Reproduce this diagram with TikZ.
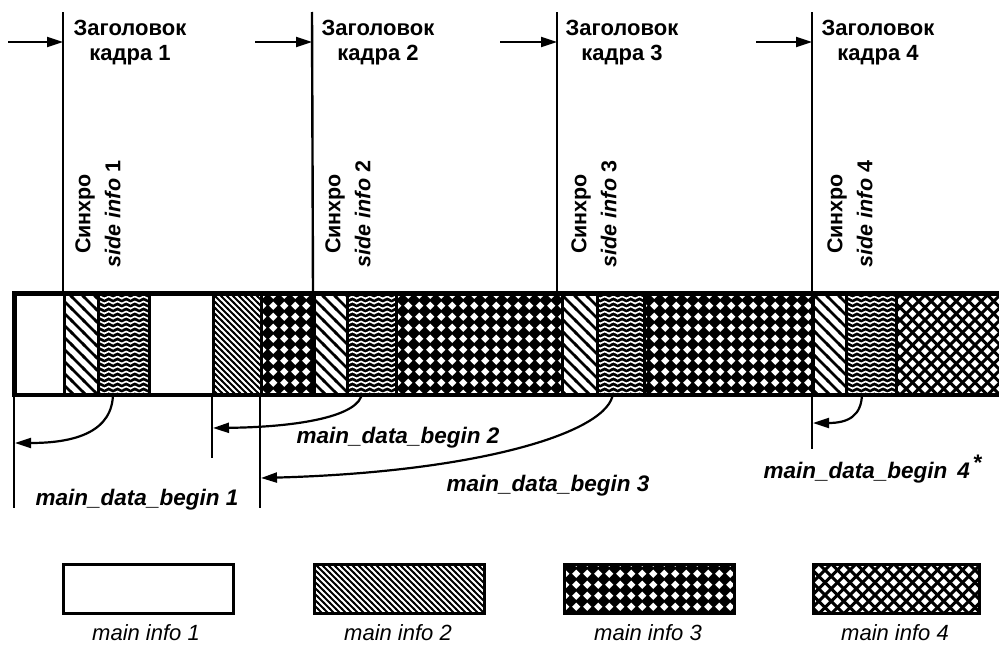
\documentclass[tikz,border=0pt]{standalone}
\usepackage{fontspec}
\setmainfont{Liberation Sans}
\usetikzlibrary{patterns,arrows.meta}

\pgfdeclarepatternformonly{sparsediag}{\pgfqpoint{-2pt}{-2pt}}{\pgfqpoint{14pt}{14pt}}{\pgfqpoint{12pt}{12pt}}{%
  \pgfsetlinewidth{2.6pt}%
  \pgfpathmoveto{\pgfqpoint{-2pt}{14pt}}%
  \pgfpathlineto{\pgfqpoint{14pt}{-2pt}}%
  \pgfusepath{stroke}}
\pgfdeclarepatternformonly{densediag}{\pgfqpoint{-1pt}{-1pt}}{\pgfqpoint{7pt}{7pt}}{\pgfqpoint{6pt}{6pt}}{%
  \pgfsetlinewidth{2.1pt}%
  \pgfpathmoveto{\pgfqpoint{-1pt}{7pt}}%
  \pgfpathlineto{\pgfqpoint{7pt}{-1pt}}%
  \pgfusepath{stroke}}
\pgfdeclarepatternformonly{diamondsw}{\pgfqpoint{0pt}{0pt}}{\pgfqpoint{11.2pt}{11.2pt}}{\pgfqpoint{11.2pt}{11.2pt}}{%
  \pgfpathmoveto{\pgfqpoint{5.6pt}{1.2pt}}%
  \pgfpathlineto{\pgfqpoint{10.0pt}{5.6pt}}%
  \pgfpathlineto{\pgfqpoint{5.6pt}{10.0pt}}%
  \pgfpathlineto{\pgfqpoint{1.2pt}{5.6pt}}%
  \pgfpathclose
  \pgfusepath{fill}}
\pgfdeclarepatternformonly{crossh}{\pgfqpoint{-1pt}{-1pt}}{\pgfqpoint{13.5pt}{13.5pt}}{\pgfqpoint{12.5pt}{12.5pt}}{%
  \pgfsetlinewidth{3pt}%
  \pgfpathmoveto{\pgfqpoint{-1pt}{-1pt}}%
  \pgfpathlineto{\pgfqpoint{13.5pt}{13.5pt}}%
  \pgfpathmoveto{\pgfqpoint{-1pt}{13.5pt}}%
  \pgfpathlineto{\pgfqpoint{13.5pt}{-1pt}}%
  \pgfusepath{stroke}}
\pgfdeclarepatternformonly{wavy}{\pgfqpoint{-0.5pt}{0pt}}{\pgfqpoint{9.2pt}{5pt}}{\pgfqpoint{8.7pt}{5pt}}{%
  \pgfsetlinewidth{1.6pt}%
  \pgfpathmoveto{\pgfqpoint{-0.5pt}{1.5pt}}%
  \pgfpathlineto{\pgfqpoint{0pt}{1.5pt}}%
  \pgfpathcurveto{\pgfqpoint{2.175pt}{1.5pt}}{\pgfqpoint{2.175pt}{3.5pt}}{\pgfqpoint{4.35pt}{3.5pt}}%
  \pgfpathcurveto{\pgfqpoint{6.525pt}{3.5pt}}{\pgfqpoint{6.525pt}{1.5pt}}{\pgfqpoint{8.7pt}{1.5pt}}%
  \pgfpathlineto{\pgfqpoint{9.2pt}{1.5pt}}%
  \pgfusepath{stroke}}

\begin{document}
\begin{tikzpicture}[x=1pt,y=-1pt,
  frameline/.style={line width=2.4pt},
  arr/.style={line width=2.2pt,-{Triangle[length=16pt,width=10pt]}},
  seg/.style={draw,line width=2.5pt,inner sep=0pt,minimum height=100pt,anchor=north west},
  legbox/.style={draw,line width=3pt,inner sep=0pt,minimum height=49pt,anchor=north west},
  hdr/.style={font=\fontsize{22}{25}\selectfont\bfseries,align=center,inner sep=0pt,anchor=north},
  rot/.style={rotate=90,font=\fontsize{21.5}{30}\selectfont\bfseries,align=center,inner sep=0pt},
  lbl/.style={font=\fontsize{22.5}{27}\selectfont\bfseries\itshape,inner sep=0pt},
  leg/.style={font=\fontsize{22}{26}\selectfont\itshape,inner sep=0pt,anchor=base},
  sidepat/.style={pattern=sparsediag},
  wavepat/.style={preaction={fill=black},pattern=wavy,pattern color=white},
  mtwo/.style={pattern=densediag},
  mthree/.style={preaction={fill=black},pattern=diamondsw,pattern color=white},
  mfour/.style={pattern=crossh}]
\clip (0,0) rectangle (999,645);

% bar segments
\node[seg,minimum width=49pt] (a) at (14,293) {};
\node[seg,sidepat,minimum width=34pt] (b) at (63,293) {};
\node[seg,wavepat,minimum width=51pt] (c) at (97,293) {};
\node[seg,minimum width=64pt] (d) at (148,293) {};
\node[seg,mtwo,minimum width=48pt] (e) at (212,293) {};
\node[seg,mthree,minimum width=53pt] (f) at (260,293) {};
\node[seg,sidepat,minimum width=33pt] (g) at (313,293) {};
\node[seg,wavepat,minimum width=49pt] (h) at (346,293) {};
\node[seg,mthree,minimum width=166pt] (i) at (395,293) {};
\node[seg,sidepat,minimum width=35pt] (j) at (561,293) {};
\node[seg,wavepat,minimum width=47pt] (k) at (596,293) {};
\node[seg,mthree,minimum width=169pt] (l) at (643,293) {};
\node[seg,sidepat,minimum width=33pt] (m) at (812,293) {};
\node[seg,wavepat,minimum width=50pt] (n) at (845,293) {};
\node[seg,mfour,minimum width=120pt] (o) at (895,293) {};
\draw[line width=3.5pt] (a.north west) rectangle (o.south east);

% frame lines
\coordinate (t1) at (63,12);
\coordinate (t2) at (312,12);
\coordinate (t3) at (557,12);
\coordinate (b3) at (557,293);
\coordinate (t4) at (812,12);
\coordinate (f4) at (812,449);
\draw[frameline] (t1) -- (b.north west);
\draw[frameline] (t2) -- (g.north west);
\draw[frameline] (t3) -- (b3);
\draw[frameline] (t4) -- (f4);

% incoming arrows
\coordinate (s1) at (8,42);   \coordinate (p1) at (63,42);
\coordinate (s2) at (255,42); \coordinate (p2) at (312,42);
\coordinate (s3) at (500,42); \coordinate (p3) at (557,42);
\coordinate (s4) at (756,42); \coordinate (p4) at (812,42);
\draw[arr] (s1) -- (p1);
\draw[arr] (s2) -- (p2);
\draw[arr] (s3) -- (p3);
\draw[arr] (s4) -- (p4);

% headers
\node[hdr] (H1) at (130,20) {Заголовок\\кадра 1};
\node[hdr] (H2) at (378,20) {Заголовок\\кадра 2};
\node[hdr] (H3) at (622,20) {Заголовок\\кадра 3};
\node[hdr] (H4) at (878,20) {Заголовок\\кадра 4};

% rotated labels
\node[rot] (R1) at (98,214) {Синхро\\\textit{side info} 1};
\node[rot] (R2) at (348,214) {Синхро\\\textit{side info} 2};
\node[rot] (R3) at (594,214) {Синхро\\\textit{side info} 3};
\node[rot] (R4) at (850,214) {Синхро\\\textit{side info} 4};

% lines below bar
\coordinate (v1) at (14,508);
\coordinate (v2) at (212,458);
\coordinate (v3) at (260,508);
\draw[frameline] (a.south west) -- (v1);
\draw[frameline] (e.south west) -- (v2);
\draw[frameline] (f.south west) -- (v3);

% curved arrows
\coordinate (c1) at (113,393); \coordinate (e1) at (15,443);
\coordinate (c2) at (362,393); \coordinate (e2) at (213,428);
\coordinate (c3) at (613,393); \coordinate (e3) at (261,478);
\coordinate (c4) at (862,393); \coordinate (e4) at (813,423);
\draw[arr] (c1) .. controls (113,432) and (75,443) .. (e1);
\draw[arr] (c2) .. controls (360,416) and (300,427) .. (e2);
\draw[arr] (c3) .. controls (610,432) and (480,472) .. (e3);
\draw[arr] (c4) .. controls (862,416) and (848,423) .. (e4);

% labels
\node[lbl] (L1) at (137,500) {main\_data\_begin 1};
\node[lbl] (L2) at (398,438) {main\_data\_begin 2};
\node[lbl] (L3) at (548,486) {main\_data\_begin 3};
\node[lbl] (L4) at (873,469) {main\_data\_begin\, 4\,\raisebox{8pt}{\upshape\bfseries *}};

% legend
\node[legbox,minimum width=170pt] (K1) at (62,563) {};
\node[legbox,mtwo,minimum width=170pt] (K2) at (313,563) {};
\node[legbox,mthree,minimum width=170pt] (K3) at (563,563) {};
\node[legbox,mfour,minimum width=166pt] (K4) at (812,563) {};
\node[leg] (M1) at (146,640) {main info 1};
\node[leg] (M2) at (398,640) {main info 2};
\node[leg] (M3) at (648,640) {main info 3};
\node[leg] (M4) at (895,640) {main info 4};
\end{tikzpicture}
\end{document}
